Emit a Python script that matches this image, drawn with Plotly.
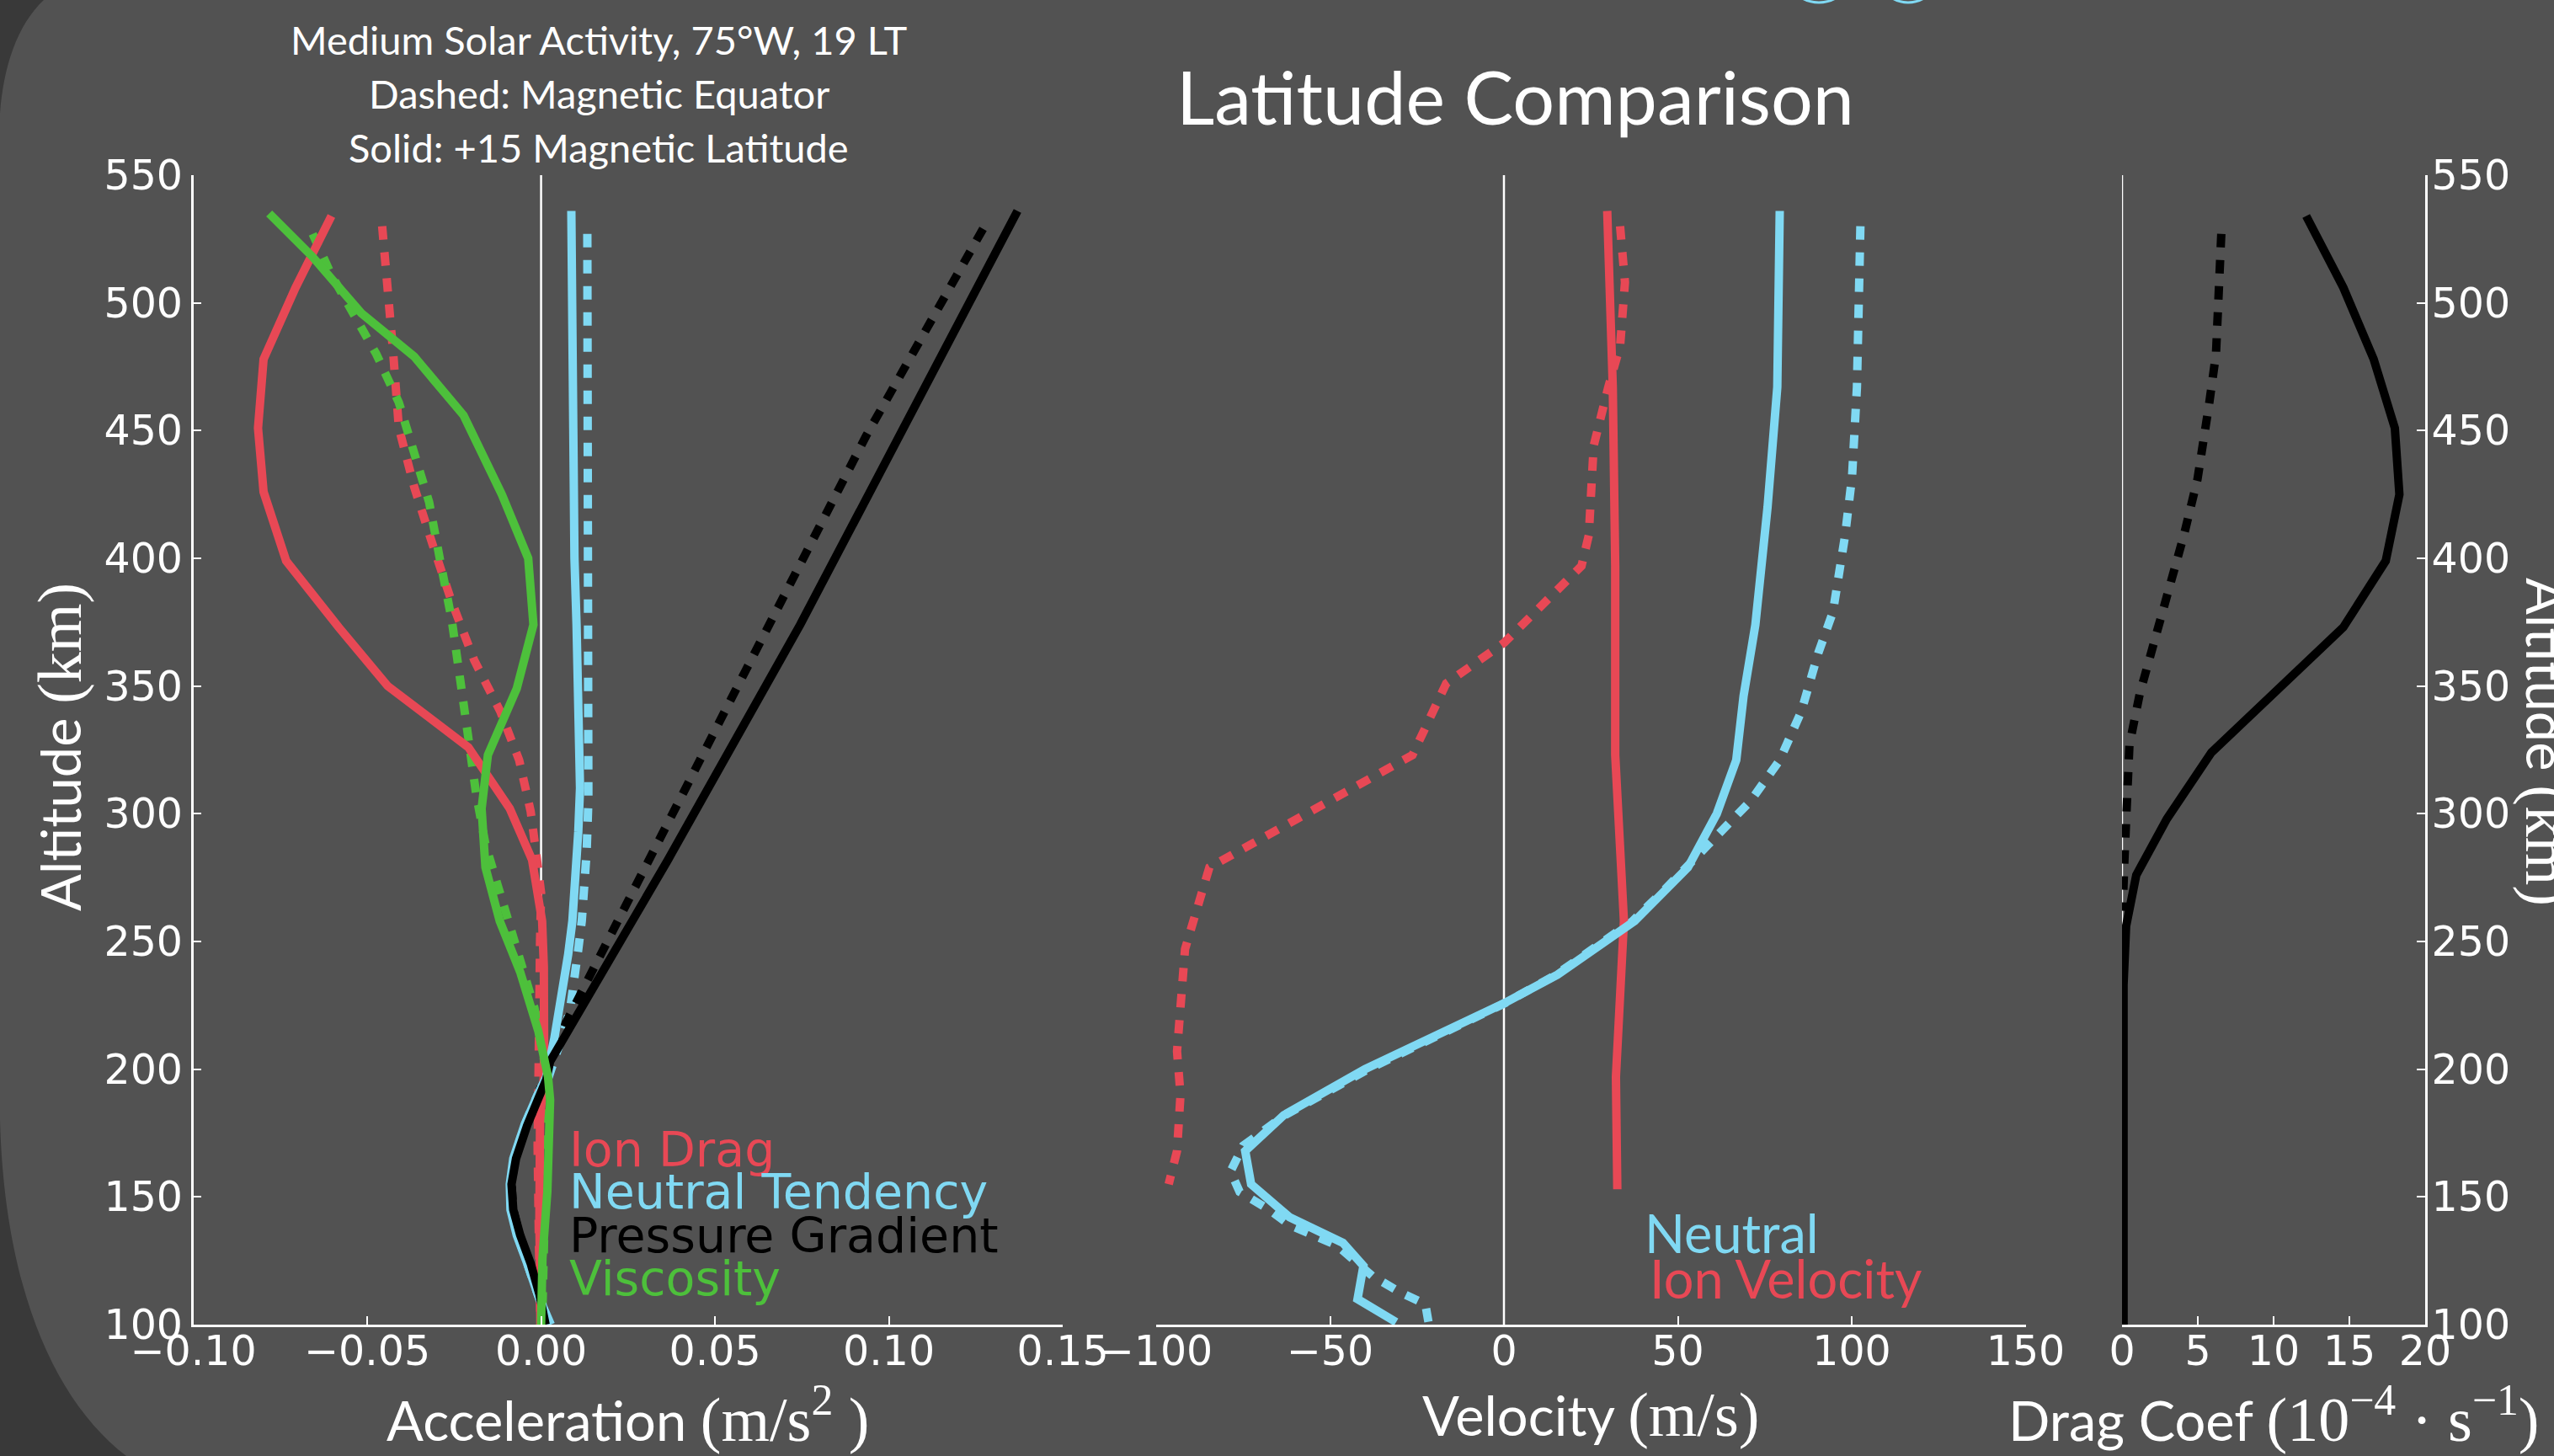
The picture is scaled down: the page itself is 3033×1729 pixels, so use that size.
import plotly.graph_objects as go

W, H = 3033, 1729

# ---------------- data: left panel (acceleration, m/s^2) ----------------
ion_drag_solid_alt = [534, 506, 478, 451, 426, 399, 373, 350, 326, 302, 282, 258, 240, 220, 199, 180, 160, 140, 120, 100]
ion_drag_solid_acc = [-0.0603, -0.0706, -0.0798, -0.0814, -0.0798, -0.0733, -0.0582, -0.0441, -0.0209, -0.0090,
                      -0.0026, 0.0003, 0.0008, 0.0009, 0.0009, -0.0003, -0.0006, -0.0005, -0.0003, -0.0002]

ion_drag_dash_alt = [530, 509, 480, 451, 428, 405, 383, 360, 340, 321, 301, 279, 269, 250, 230, 210, 190, 170, 150, 130, 110, 100]
ion_drag_dash_acc = [-0.0457, -0.0441, -0.0425, -0.0409, -0.0365, -0.0311, -0.0257, -0.0192, -0.0117, -0.0063, -0.0030,
                     -0.0009, 0.0, -0.0003, -0.0003, -0.0005, -0.0008, -0.0010, -0.0010, -0.0006, -0.0003, -0.0002]

neut_tend_solid_alt = [536, 490, 443, 400, 374, 350, 328, 310, 293, 275, 258, 245, 235, 222, 212, 203, 197, 190, 178,
                       165, 155, 145, 135, 124, 112, 100]
neut_tend_solid_acc = [0.0087, 0.0088, 0.0090, 0.0096, 0.0102, 0.0108, 0.0113, 0.0112, 0.0107, 0.0100, 0.0090, 0.0078,
                       0.0067, 0.0050, 0.0038, 0.0024, 0.0015, -0.0010, -0.0048, -0.0080, -0.0090, -0.0088, -0.0070,
                       -0.0040, -0.0010, 0.0028]

neut_tend_dash_alt = [527, 450, 397, 350, 328, 305, 285, 270, 258, 247, 235, 224, 215, 205, 197, 190, 178, 165, 155,
                      145, 135, 124, 112, 100]
neut_tend_dash_acc = [0.0133, 0.0134, 0.0136, 0.0138, 0.0139, 0.0136, 0.0131, 0.0125, 0.0117, 0.0107, 0.0096, 0.0084,
                      0.0066, 0.0044, 0.0022, -0.0010, -0.0048, -0.0078, -0.0088, -0.0085, -0.0068, -0.0040, -0.0010,
                      0.0020]

pressure_solid_alt = [536, 453, 374, 282, 203, 196, 190, 178, 165, 155, 145, 135, 124, 112, 100]
pressure_solid_acc = [0.137, 0.1050, 0.0745, 0.0365, 0.0026, 0.0015, -0.0005, -0.0040, -0.0072, -0.0085, -0.0080,
                      -0.0060, -0.0030, -0.0005, 0.0013]

pressure_dash_alt = [529, 448, 356, 270, 217, 200, 190, 178, 165, 155, 145, 135, 124, 112, 100]
pressure_dash_acc = [0.1271, 0.0935, 0.0588, 0.0264, 0.0067, 0.0015, -0.0008, -0.0045, -0.0075, -0.0085, -0.0080,
                     -0.0062, -0.0032, -0.0006, 0.0010]

visc_solid_alt = [535, 518, 496, 479, 456, 425, 400, 374, 349, 323, 302, 279, 258, 238, 215, 197, 188, 170, 152, 126, 100]
visc_solid_acc = [-0.0782, -0.0657, -0.0517, -0.0365, -0.0223, -0.0113, -0.0037, -0.0022, -0.0070, -0.0153, -0.0171,
                  -0.0160, -0.0119, -0.0060, -0.0008, 0.0020, 0.0026, 0.0022, 0.0018, 0.0004, 0.0]

visc_dash_alt = [527, 511, 498, 480, 461, 441, 422, 399, 376, 350, 327, 308, 288, 269, 246, 224, 204, 190, 170, 150,
                 130, 110, 100]
visc_dash_acc = [-0.0657, -0.0603, -0.0549, -0.0474, -0.0409, -0.0365, -0.0322, -0.0290, -0.0257, -0.0230, -0.0209,
                 -0.0187, -0.0160, -0.0117, -0.0063, -0.0019, 0.0008, 0.0015, 0.0015, 0.0012, 0.0008, 0.0004, 0.0003]

# ---------------- data: middle panel (velocity, m/s) ----------------
ion_vel_solid_alt = [536, 467, 397, 323, 258, 207, 197, 153]
ion_vel_solid_val = [29.7, 31.3, 32.0, 32.0, 34.5, 32.3, 32.2, 32.6]

ion_vel_dash_alt = [530, 508, 483, 467, 444, 409, 397, 367, 351, 323, 279, 247, 207, 190, 168, 155]
ion_vel_dash_val = [33.4, 34.8, 33.4, 30.0, 25.8, 24.4, 22.3, 0.1, -16.6, -26.3, -84.7, -91.7, -94.0, -93.0, -94.0, -96.4]

neut_vel_solid_alt = [536, 467, 420, 374, 346, 321, 300, 279, 258, 237, 226, 217, 208, 200, 182, 168, 155, 142, 132,
                      123, 110, 101]
neut_vel_solid_val = [79.3, 78.6, 75.8, 72.3, 68.9, 66.8, 61.2, 52.9, 37.6, 15.4, 0.3, -13.8, -27.7, -40.0, -63.3,
                      -74.4, -72.7, -61.6, -46.3, -40.4, -42.1, -31.0]

neut_vel_dash_alt = [530, 490, 467, 432, 409, 379, 363, 340, 321, 305, 291, 282, 270, 258, 237, 226, 217, 208, 200,
                     182, 170, 160, 152, 145, 139, 135, 131, 119, 113, 108, 101]
neut_vel_dash_val = [102.5, 102.2, 101.5, 100.1, 98.1, 94.6, 90.4, 85.5, 79.3, 70.9, 61.2, 54.3, 46.0, 37.0, 15.0, 0.5,
                     -13.0, -27.0, -39.0, -63.0, -75.0, -78.6, -76.0, -67.5, -61.6, -54.8, -48.0, -37.8, -30.3, -22.6,
                     -21.7]

# ---------------- data: right panel (drag coefficient, 1e-4 s^-1) ----------------
drag_solid_alt = [534, 506, 478, 451, 425, 399, 373, 342, 324, 298, 276, 256, 233, 200, 150, 100]
drag_solid_val = [12.15, 14.6, 16.6, 18.0, 18.3, 17.4, 14.6, 9.0, 5.9, 2.96, 0.94, 0.27, 0.1, 0.1, 0.1, 0.1]

drag_dash_alt = [527, 503, 480, 461, 431, 409, 389, 370, 347, 327, 305, 282, 262]
drag_dash_val = [6.55, 6.43, 6.2, 5.76, 4.98, 4.08, 3.18, 2.29, 1.17, 0.49, 0.27, 0.16, 0.04]

# ---------------- ticks ----------------
alt_ticks = [100, 150, 200, 250, 300, 350, 400, 450, 500, 550]
acc_ticks = [-0.10, -0.05, 0.0, 0.05, 0.10, 0.15]
acc_ticktext = ["\u22120.10", "\u22120.05", "0.00", "0.05", "0.10", "0.15"]
vel_ticks = [-100, -50, 0, 50, 100, 150]
vel_ticktext = ["\u2212100", "\u221250", "0", "50", "100", "150"]
drag_ticks = [0, 5, 10, 15, 20]

# ---------------- styling ----------------
BG = "#525252"
DARK = "#393939"
RED = "#E84855"
CYAN = "#80D9F3"
GREEN = "#4DC03B"
BLACK = "#000000"
LW = 10
DASH = "16px,15px"
TICKFONT = dict(family="DejaVu Sans", size=49, color="white")
TITLE_FONT = "Lato"
SERIF = "Liberation Serif"
AX_TITLE = 65
UNIT = 74


def fx(px):
    return px / W


def fy(py):
    return 1 - py / H


fig = go.Figure()


def add(x, y, color, dashed, xa, ya):
    fig.add_trace(go.Scatter(
        x=x, y=y, mode="lines",
        line=dict(color=color, width=LW, dash=DASH if dashed else "solid"),
        xaxis=xa, yaxis=ya, hoverinfo="skip", showlegend=False))


# left panel: dashed (equator) then solid (+15)
add(ion_drag_dash_acc, ion_drag_dash_alt, RED, True, "x", "y")
add(neut_tend_dash_acc, neut_tend_dash_alt, CYAN, True, "x", "y")
add(pressure_dash_acc, pressure_dash_alt, BLACK, True, "x", "y")
add(visc_dash_acc, visc_dash_alt, GREEN, True, "x", "y")
add(ion_drag_solid_acc, ion_drag_solid_alt, RED, False, "x", "y")
add(neut_tend_solid_acc, neut_tend_solid_alt, CYAN, False, "x", "y")
add(pressure_solid_acc, pressure_solid_alt, BLACK, False, "x", "y")
add(visc_solid_acc, visc_solid_alt, GREEN, False, "x", "y")

# middle panel
add(ion_vel_dash_val, ion_vel_dash_alt, RED, True, "x2", "y2")
add(neut_vel_dash_val, neut_vel_dash_alt, CYAN, True, "x2", "y2")
add(ion_vel_solid_val, ion_vel_solid_alt, RED, False, "x2", "y2")
add(neut_vel_solid_val, neut_vel_solid_alt, CYAN, False, "x2", "y2")

# right panel
add(drag_dash_val, drag_dash_alt, BLACK, True, "x3", "y3")
add(drag_solid_val, drag_solid_alt, BLACK, False, "x3", "y3")

ydom = [fy(1573), fy(208)]
common_x = dict(ticks="inside", ticklen=10, tickwidth=2, tickcolor="white", showline=True, linecolor="white",
                linewidth=2.5, showgrid=False, zeroline=False, tickfont=TICKFONT, ticklabelstandoff=-14,
                fixedrange=True, automargin=False)
common_y = dict(range=[100, 550], domain=ydom, tickvals=alt_ticks, tickwidth=2,
                tickcolor="white", linecolor="white", linewidth=2.5, showgrid=False, zeroline=False,
                tickfont=TICKFONT, fixedrange=True, automargin=False)

fig.update_layout(
    width=W, height=H, margin=dict(l=0, r=0, t=0, b=0, pad=0, autoexpand=False),
    paper_bgcolor=BG, plot_bgcolor="rgba(0,0,0,0)",
    xaxis=dict(domain=[fx(229.6), fx(1262)], range=[-0.10, 0.15], tickvals=acc_ticks, ticktext=acc_ticktext,
               anchor="y", **common_x),
    yaxis=dict(anchor="x", showline=True, ticks="inside", ticklen=10, ticklabelstandoff=0, **common_y),
    xaxis2=dict(domain=[fx(1373), fx(2405.5)], range=[-100, 150], tickvals=vel_ticks, ticktext=vel_ticktext,
                anchor="y2", **common_x),
    yaxis2=dict(anchor="x2", showline=False, showticklabels=False, ticks="", **common_y),
    xaxis3=dict(domain=[fx(2520), fx(2880)], range=[0, 20], tickvals=drag_ticks, anchor="y3", **common_x),
    yaxis3=dict(anchor="x3", side="right", showline=True, ticks="inside", ticklen=10, ticklabelstandoff=-5,
                **common_y),
)

shapes = []
# zero lines in each panel
for xr, yr in (("x", "y"), ("x2", "y2"), ("x3", "y3")):
    shapes.append(dict(type="line", xref=xr, yref=yr + " domain", x0=0, x1=0, y0=0, y1=1,
                       line=dict(color="white", width=2.5), layer="below"))
# slide background: darker rounded corners at left edge
shapes.append(dict(type="path", xref="paper", yref="paper", layer="below", fillcolor=DARK, line=dict(width=0),
                   path=f"M 0 {fy(0)} L {fx(52)} {fy(0)} C {fx(20)} {fy(30)} {fx(4)} {fy(80)} 0 {fy(135)} Z"))
shapes.append(dict(type="path", xref="paper", yref="paper", layer="below", fillcolor=DARK, line=dict(width=0),
                   path=(f"M 0 {fy(1330)} C {fx(5)} {fy(1520)} {fx(60)} {fy(1660)} {fx(150)} {fy(1729)} "
                         f"L 0 {fy(1729)} Z")))
# cyan decorative rings at top edge
for cx, r in ((2160, 40), (2266, 36)):
    shapes.append(dict(type="circle", xref="paper", yref="paper", x0=fx(cx - r), x1=fx(cx + r),
                       y0=fy(3), y1=fy(3 - 2 * r), line=dict(color=CYAN, width=3)))
fig.update_layout(shapes=shapes)

ann = []


def text(x, y, s, size, family=TITLE_FONT, color="white", xanchor="center", angle=0):
    ann.append(dict(x=fx(x), y=fy(y), xref="paper", yref="paper", text=s, showarrow=False,
                    font=dict(family=family, size=size, color=color), xanchor=xanchor, yanchor="middle",
                    textangle=angle))


def unit(s):
    return f"<span style='font-family:{SERIF};font-size:{UNIT}px'>{s}</span>"


text(1800, 114, "Latitude Comparison", 88)
text(711, 47, "Medium Solar Activity, 75\u00b0W, 19 LT", 47)
text(711, 111, "Dashed: Magnetic Equator", 47)
text(711, 175, "Solid: +15 Magnetic Latitude", 47)

text(745.8, 1680, "Acceleration " + unit("(m/s<sup>2</sup> )"), AX_TITLE)
text(1889, 1680, "Velocity " + unit("(m/s)"), AX_TITLE)
text(2700, 1680, "Drag Coef " + unit("(10<sup>\u22124</sup> \u00b7 s<sup>\u22121</sup>)"), AX_TITLE)
text(71, 887, "Altitude " + unit("(km)"), AX_TITLE, angle=-90)
text(3025, 881, "Altitude " + unit("(km)"), AX_TITLE, angle=90)

# in-panel legends
text(674, 1365, "Ion Drag", 57, family="DejaVu Sans", color=RED, xanchor="left")
text(674, 1415, "Neutral Tendency", 57, family="DejaVu Sans", color=CYAN, xanchor="left")
text(674, 1467, "Pressure Gradient", 57, family="DejaVu Sans", color=BLACK, xanchor="left")
text(674, 1518, "Viscosity", 57, family="DejaVu Sans", color=GREEN, xanchor="left")
text(1951, 1463, "Neutral", 63, color=CYAN, xanchor="left")
text(1957, 1517, "Ion Velocity", 63, color=RED, xanchor="left")

fig.update_layout(annotations=ann)

fig.write_html("out.html", config={"displayModeBar": False},
               post_script="document.body.style.margin='0';document.body.style.overflow='hidden';")
